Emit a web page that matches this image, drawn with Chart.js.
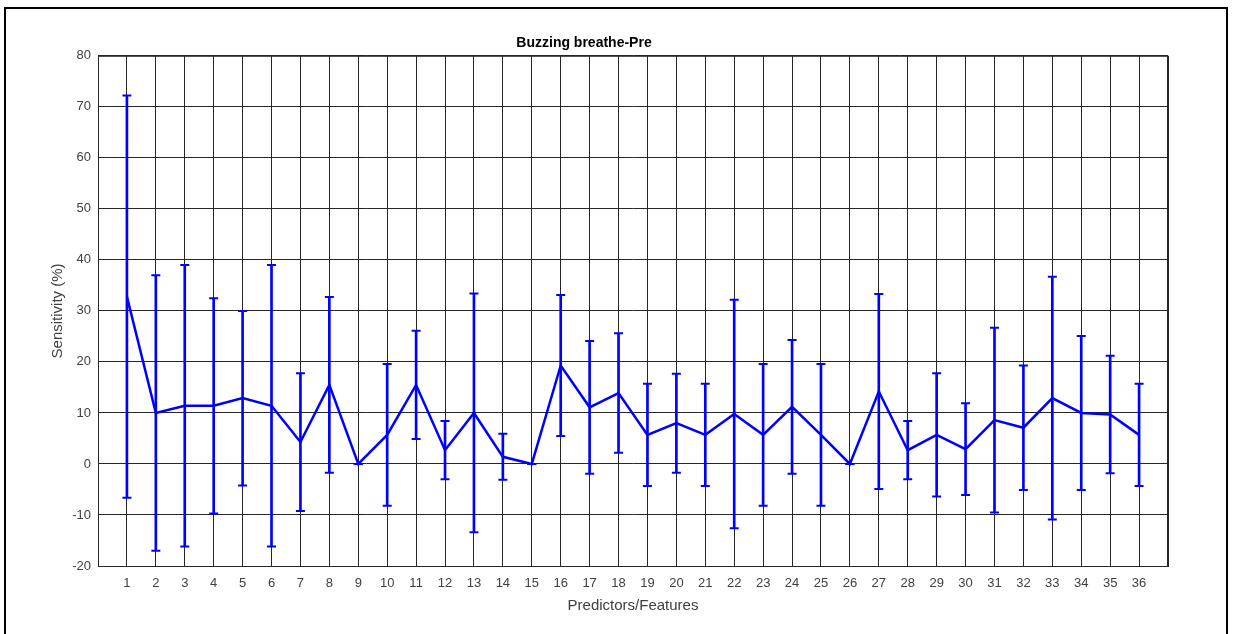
<!DOCTYPE html>
<html>
<head>
<meta charset="utf-8">
<script src="https://cdn.jsdelivr.net/npm/chart.js@4.4.1/dist/chart.umd.min.js"></script>
<style>
    html, body { margin: 0; padding: 0; background: #fff; }
    #wrap { position: relative; width: 1236px; height: 634px; overflow: hidden; }
    #frame { position: absolute; left: 4px; top: 7px; width: 1220px; height: 700px; border: 2px solid #000; }
    #chart { position: absolute; left: 0; top: 0; }
</style>
</head>
<body>
<div id="wrap">
    <div id="frame"></div>
    <canvas id="chart" width="1236" height="634"></canvas>
</div>
<script>
const features = ['1','2','3','4','5','6','7','8','9','10','11','12','13','14','15','16','17','18',
    '19','20','21','22','23','24','25','26','27','28','29','30','31','32','33','34','35','36'];

// mean sensitivity (%)
const sensitivity = [32.8, 10.0, 11.4, 11.4, 12.9, 11.4, 4.3, 15.5, 0, 5.7, 15.5, 2.7,
    10.0, 1.4, 0, 19.3, 11.1, 13.9, 5.7, 8.0, 5.7, 9.8, 5.7, 11.2,
    5.7, 0, 14.2, 2.7, 5.7, 2.9, 8.6, 7.1, 12.9, 10.0, 9.7, 5.7];

// error (+/-)
const errors = [39.4, 27.0, 27.6, 21.1, 17.1, 27.6, 13.5, 17.2, 0, 13.9, 10.6, 5.7,
    23.4, 4.5, 0, 13.8, 13.0, 11.7, 10.0, 9.7, 10.0, 22.4, 13.9, 13.1,
    13.9, 0, 19.1, 5.7, 12.1, 9.0, 18.1, 12.2, 23.8, 15.1, 11.5, 10.0];

const yTicks = [-20, -10, 0, 10, 20, 30, 40, 50, 60, 70, 80];

// empty slot at each end so the axis runs 0..37
const labels = [''].concat(features, ['']);
const pad = arr => [null].concat(arr, [null]);

const upper = sensitivity.map((v, i) => v + errors[i]);
const lower = sensitivity.map((v, i) => v - errors[i]);
const ranges = sensitivity.map((v, i) => [lower[i], upper[i]]);

const blue = '#0000ff';
const gridColor = '#262626';
const textColor = '#404040';

const boxPlugin = {
    id: 'box',
    beforeDatasetsDraw(chart) {
        const {ctx, chartArea: a} = chart;
        ctx.save();
        ctx.strokeStyle = gridColor;
        ctx.lineWidth = 1;
        ctx.strokeRect(a.left + 0.5, a.top + 0.5, a.right - a.left - 1, a.bottom - a.top);
        ctx.restore();
    }
};

new Chart(document.getElementById('chart'), {
    type: 'line',
    data: {
        labels: labels,
        datasets: [
            {
                type: 'line',
                data: pad(sensitivity),
                borderColor: blue,
                borderWidth: 2.5,
                pointRadius: 0,
                tension: 0,
                order: 1
            },
            {
                type: 'bar',
                data: pad(ranges),
                backgroundColor: blue,
                borderWidth: 0,
                barThickness: 2,
                order: 2
            },
            {
                type: 'line',
                data: pad(upper),
                showLine: false,
                pointStyle: 'line',
                pointRadius: 4.5,
                pointBorderWidth: 2,
                pointBorderColor: blue,
                order: 0
            },
            {
                type: 'line',
                data: pad(lower),
                showLine: false,
                pointStyle: 'line',
                pointRadius: 4.5,
                pointBorderWidth: 2,
                pointBorderColor: blue,
                order: 0
            }
        ]
    },
    options: {
        responsive: false,
        animation: false,
        layout: {padding: {left: 0, right: 68, top: 0, bottom: 0}},
        plugins: {
            legend: {display: false},
            tooltip: {enabled: false},
            title: {
                display: true,
                text: 'Buzzing breathe-Pre',
                color: '#000',
                font: {family: 'Liberation Sans, Arial, sans-serif', size: 14, weight: 'bold'},
                padding: {top: 35, bottom: 4}
            }
        },
        scales: {
            x: {
                type: 'category',
                offset: false,
                grid: {color: gridColor, lineWidth: 1, drawTicks: false, offset: false},
                border: {color: gridColor},
                ticks: {
                    color: textColor,
                    padding: 10,
                    maxRotation: 0,
                    autoSkip: false,
                    font: {family: 'Liberation Sans, Arial, sans-serif', size: 13}
                },
                title: {
                    display: true,
                    text: 'Predictors/Features',
                    color: textColor,
                    font: {family: 'Liberation Sans, Arial, sans-serif', size: 15},
                    padding: {top: 0, bottom: 19}
                },
                afterFit(scale) { scale.height = 68; }
            },
            y: {
                min: -20,
                max: 80,
                afterBuildTicks(scale) { scale.ticks = yTicks.map(v => ({value: v})); },
                grid: {color: gridColor, lineWidth: 1, drawTicks: false},
                border: {color: gridColor},
                ticks: {
                    color: textColor,
                    padding: 7,
                    font: {family: 'Liberation Sans, Arial, sans-serif', size: 13}
                },
                title: {
                    display: true,
                    text: 'Sensitivity (%)',
                    color: textColor,
                    font: {family: 'Liberation Sans, Arial, sans-serif', size: 15},
                    padding: {top: 49, bottom: 0}
                },
                afterFit(scale) { scale.width = 98; }
            }
        }
    },
    plugins: [boxPlugin]
});
</script>
</body>
</html>
